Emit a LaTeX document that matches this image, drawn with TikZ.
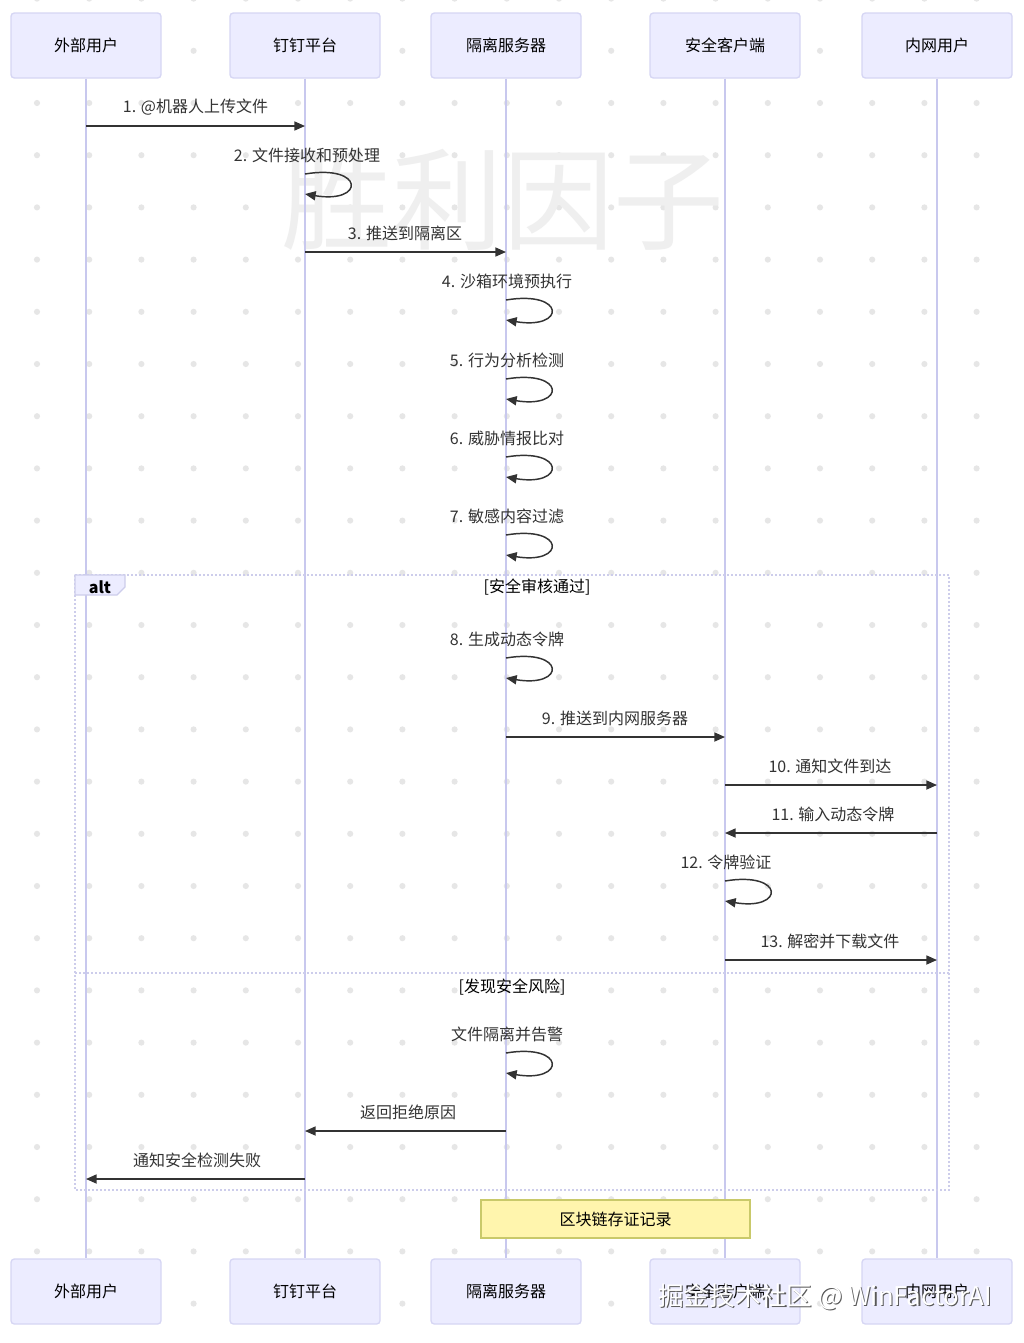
\documentclass[tikz,border=0pt]{standalone}
\usepackage{fontspec}
\setmainfont{Noto Sans CJK SC}
\usetikzlibrary{arrows.meta}
\definecolor{actorfill}{HTML}{ECECFF}
\definecolor{actorline}{HTML}{D6D6F4}
\definecolor{lifec}{HTML}{C8C8EE}
\definecolor{msgc}{HTML}{333333}
\definecolor{notefill}{HTML}{FFF5AD}
\definecolor{noteline}{HTML}{C9C96A}
\definecolor{dotc}{HTML}{E6E6E6}
\definecolor{wmc}{HTML}{EFEFEF}
\definecolor{altline}{HTML}{CDCDEB}
\tikzset{
  actor/.style={draw=actorline, fill=actorfill, line width=1pt, rounded corners=2.5pt,
    minimum width=112.5pt, minimum height=48.75pt, inner sep=0pt, text=black},
  lifeline/.style={draw=lifec, line width=1.2pt},
  msg/.style={draw=msgc, line width=1.1pt, -{Triangle[length=8pt,width=6.8pt]}},
  lbl/.style={text=msgc, inner sep=0pt},
  altframe/.style={draw=altline, line width=1.1pt, dash pattern=on 1.5pt off 1.5pt},
  notebox/.style={draw=noteline, fill=notefill, line width=0.8pt, inner sep=0pt},
}
\begin{document}
\begin{tikzpicture}[x=0.75pt,y=-0.75pt, font=\fontsize{12}{14}\selectfont]
\useasboundingbox (0,0) rectangle (1024,1343);
\fill[white] (0,0) rectangle (1024,1343);
% dot grid
\foreach \i in {0,...,18}{
  \foreach \j in {0,...,25}{
    \fill[dotc] ({37+52.2*\i},{-1.4+52.2*\j}) circle (2.3pt);
  }
}
% watermark
\node[text=wmc, inner sep=0pt, font=\fontsize{83}{83}\selectfont] (wmark) at (503,200) {胜利因子};
% actors top
\node[actor] (A) at (86,45.5) {外部用户};
\node[actor] (B) at (305,45.5) {钉钉平台};
\node[actor] (C) at (506,45.5) {隔离服务器};
\node[actor] (D) at (725,45.5) {安全客户端};
\node[actor] (E) at (937,45.5) {内网用户};
% actors bottom
\node[actor] (Ab) at (86,1291.5) {外部用户};
\node[actor] (Bb) at (305,1291.5) {钉钉平台};
\node[actor] (Cb) at (506,1291.5) {隔离服务器};
\node[actor] (Db) at (725,1291.5) {安全客户端};
\node[actor] (Eb) at (937,1291.5) {内网用户};
% lifelines
\draw[lifeline] (A.south) -- (Ab.north);
\draw[lifeline] (B.south) -- (Bb.north);
\draw[lifeline] (C.south) -- (Cb.north);
\draw[lifeline] (D.south) -- (Db.north);
\draw[lifeline] (E.south) -- (Eb.north);
% alt frame
\draw[altframe] (75,575) rectangle (949,1190);
\draw[altframe] (75,973) -- (949,973);
\filldraw[fill=actorfill, draw=altline, line width=1pt] (75,575) -- (125,575) -- (125,587) -- (117,595) -- (75,595) -- cycle;
\node[inner sep=0pt, font=\fontsize{12}{14}\selectfont\bfseries] (altlbl) at (100,587) {alt};
\node[lbl, text=black] (g1) at (537,587) {[安全审核通过]};
\node[lbl, text=black] (g2) at (512,987) {[发现安全风险]};
% messages
\node[lbl] (l1) at (195.5,107) {1. @机器人上传文件};
\draw[msg] (A |- 0,126) -- (B |- 0,126);
\node[lbl] (l2) at (307,155) {2. 文件接收和预处理};
\draw[msg] (B |- 0,174) .. controls +(60,-10) and +(60,10) .. (B |- 0,194);
\node[lbl] (l3) at (405,233) {3. 推送到隔离区};
\draw[msg] (B |- 0,252) -- (C |- 0,252);
\node[lbl] (l4) at (507,281) {4. 沙箱环境预执行};
\draw[msg] (C |- 0,300) .. controls +(60,-10) and +(60,10) .. (C |- 0,320);
\node[lbl] (l5) at (507,360) {5. 行为分析检测};
\draw[msg] (C |- 0,379) .. controls +(60,-10) and +(60,10) .. (C |- 0,399);
\node[lbl] (l6) at (507,438) {6. 威胁情报比对};
\draw[msg] (C |- 0,457) .. controls +(60,-10) and +(60,10) .. (C |- 0,477);
\node[lbl] (l7) at (507,516) {7. 敏感内容过滤};
\draw[msg] (C |- 0,535) .. controls +(60,-10) and +(60,10) .. (C |- 0,555);
\node[lbl] (l8) at (507,639) {8. 生成动态令牌};
\draw[msg] (C |- 0,658) .. controls +(60,-10) and +(60,10) .. (C |- 0,678);
\node[lbl] (l9) at (615,718) {9. 推送到内网服务器};
\draw[msg] (C |- 0,737) -- (D |- 0,737);
\node[lbl] (l10) at (830,766) {10. 通知文件到达};
\draw[msg] (D |- 0,785) -- (E |- 0,785);
\node[lbl] (l11) at (833,814) {11. 输入动态令牌};
\draw[msg] (E |- 0,833) -- (D |- 0,833);
\node[lbl] (l12) at (726,862) {12. 令牌验证};
\draw[msg] (D |- 0,881) .. controls +(60,-10) and +(60,10) .. (D |- 0,901);
\node[lbl] (l13) at (830,941) {13. 解密并下载文件};
\draw[msg] (D |- 0,960) -- (E |- 0,960);
\node[lbl] (l14) at (507,1034) {文件隔离并告警};
\draw[msg] (C |- 0,1053) .. controls +(60,-10) and +(60,10) .. (C |- 0,1073);
\node[lbl] (l15) at (408,1112) {返回拒绝原因};
\draw[msg] (C |- 0,1131) -- (B |- 0,1131);
\node[lbl] (l16) at (197,1160) {通知安全检测失败};
\draw[msg] (B |- 0,1179) -- (A |- 0,1179);
% note
\node[notebox, minimum width=201.75pt, minimum height=28.5pt, text=black] (note) at (615.5,1219) {区块链存证记录};
% bottom watermark
\node[text=black!65, inner sep=0pt, font=\fontsize{19.3}{21}\selectfont] (wm2s) at (826.2,1298.2) {掘金技术社区 @ WinFactorAI};
\node[text=white, inner sep=0pt, font=\fontsize{19.3}{21}\selectfont] (wm2) at (825,1297) {掘金技术社区 @ WinFactorAI};
\end{tikzpicture}
\end{document}
